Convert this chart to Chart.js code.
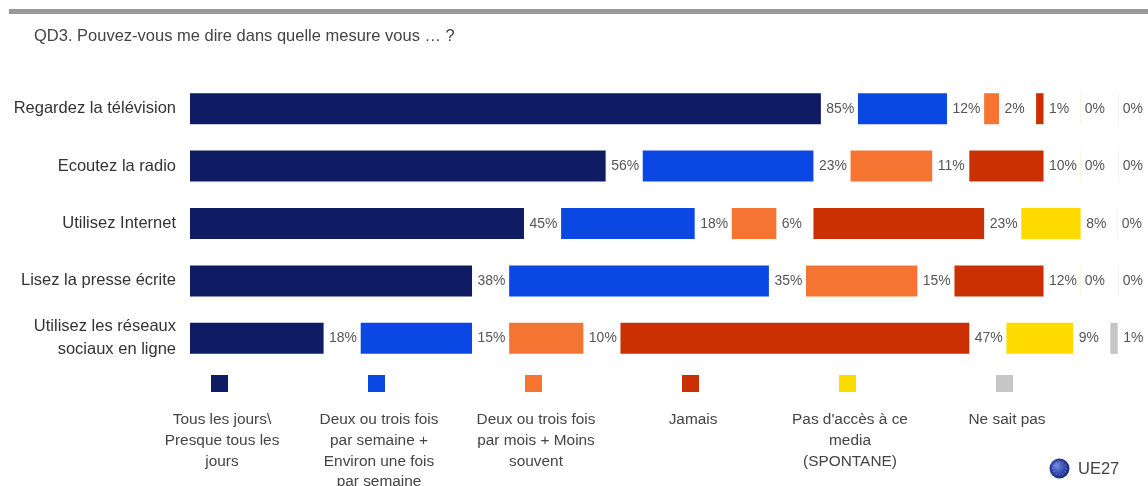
<!DOCTYPE html>
<html lang="fr">
<head>
<meta charset="utf-8">
<title>QD3</title>
<script src="https://cdn.jsdelivr.net/npm/chart.js@4"></script>
<style>
  html, body { margin: 0; padding: 0; background: #fff; overflow: hidden; }
  #wrap { position: relative; width: 1148px; height: 486px; overflow: hidden; }
  #topRule { position: absolute; left: 9px; right: 0; top: 9px; height: 5px; background: #999; }
  #question { position: absolute; left: 34px; top: 26px; font: 17px "Liberation Sans", Arial, sans-serif; color: #444; transform: scaleX(0.97); transform-origin: left top; white-space: nowrap; }
  #myChart { position: absolute; left: 0; top: 0; }
</style>
</head>
<body>
<div id="wrap">
  <canvas id="myChart" width="1148" height="486"></canvas>
  <div id="topRule"></div>
  <div id="question">QD3. Pouvez-vous me dire dans quelle mesure vous … ?</div>
</div>
<script>
const categories = [
  'Regardez la télévision',
  'Ecoutez la radio',
  'Utilisez Internet',
  'Lisez la presse écrite',
  ['Utilisez les réseaux', 'sociaux en ligne']
];
const tousLesJours = [85, 56, 45, 38, 18];
const parSemaine = [12, 23, 18, 35, 15];
const parMois = [2, 11, 6, 15, 10];
const jamais = [1, 10, 23, 12, 47];
const pasAcces = [0, 0, 8, 0, 9];
const neSaitPas = [0, 0, 0, 0, 1];

const seriesNames = [
  ['Tous les jours\\', 'Presque tous les', 'jours'],
  ['Deux ou trois fois', 'par semaine +', 'Environ une fois', 'par semaine'],
  ['Deux ou trois fois', 'par mois + Moins', 'souvent'],
  ['Jamais'],
  ["Pas d'accès à ce", 'media', '(SPONTANE)'],
  ['Ne sait pas']
];
const seriesValues = [tousLesJours, parSemaine, parMois, jamais, pasAcces, neSaitPas];
const colours = ['#0f1b63', '#0b47e3', '#f67431', '#cb3003', '#ffdb00', '#c6c6c6'];
const zeroColours = ['#eee', '#eee', '#eee', '#eee', '#fbf6d6', '#f0f0f0'];
const labelGap = 5; // room left after each segment for its percentage

const FONT = '"Liberation Sans", Arial, sans-serif';

// every real series is followed by a transparent spacer, the labels sit in there
const datasets = [];
seriesValues.forEach((values, i) => {
  datasets.push({
    label: seriesNames[i].join(' '),
    data: values,
    backgroundColor: ctx => ctx.raw === 0 ? zeroColours[i] : colours[i],
    minBarLength: i >= 4 ? 1 : 0,
    isSeries: true
  });
  if (i < seriesValues.length - 1) {
    datasets.push({ label: '', data: values.map(() => labelGap), backgroundColor: 'transparent' });
  }
});

const percentLabels = {
  id: 'percentLabels',
  afterDatasetsDraw(chart) {
    const c = chart.ctx;
    chart.data.datasets.forEach((ds, d) => {
      if (!ds.isSeries) return;
      chart.getDatasetMeta(d).data.forEach((bar, i) => {
        const x = ds.data[i] === 0 ? bar.base + 4.5 : bar.x + 5.5;
        c.save();
        c.translate(x, bar.y);
        c.scale(0.93, 1); // slightly narrow figures
        c.font = '15px ' + FONT;
        c.fillStyle = '#555';
        c.textBaseline = 'middle';
        c.textAlign = 'left';
        c.fillText(ds.data[i] + '%', 0, 0);
        c.restore();
      });
    });
  }
};

// hand-placed legend under the bars, one swatch and a wrapped caption per series
const legendBlock = {
  id: 'legendBlock',
  afterDraw(chart) {
    const c = chart.ctx;
    c.save();
    seriesNames.forEach((lines, i) => {
      const cx = 219.5 + i * 157;
      c.fillStyle = colours[i];
      c.fillRect(cx - 8.5, 375, 17, 17);
      c.fillStyle = '#444';
      c.font = '15.4px ' + FONT;
      c.textAlign = 'center';
      c.textBaseline = 'middle';
      lines.forEach((line, l) => c.fillText(line, cx + 2.5, 420 + l * 20.7));
    });

    // UE27 marker, a small blue globe with a ring of stars
    const gx = 1059.5, gy = 468.5;
    const grad = c.createRadialGradient(gx - 3, gy - 3, 1, gx, gy, 11);
    grad.addColorStop(0, '#7288dc');
    grad.addColorStop(0.6, '#2f44a6');
    grad.addColorStop(1, '#18246f');
    c.fillStyle = grad;
    c.beginPath();
    c.arc(gx, gy, 10, 0, Math.PI * 2);
    c.fill();
    c.fillStyle = 'rgba(225,225,255,0.55)';
    for (let s = 0; s < 12; s++) {
      const a = s * Math.PI / 6;
      c.fillRect(gx + Math.cos(a) * 6.5 - 0.5, gy + Math.sin(a) * 6.5 - 0.5, 1, 1);
    }
    c.fillStyle = '#444';
    c.font = '16.5px ' + FONT;
    c.textAlign = 'left';
    c.fillText('UE27', 1078, 469);
    c.restore();
  }
};

new Chart(document.getElementById('myChart').getContext('2d'), {
  type: 'bar',
  data: { labels: categories, datasets },
  plugins: [percentLabels, legendBlock],
  options: {
    indexAxis: 'y',
    responsive: false,
    animation: false,
    layout: { padding: { top: 80, bottom: 119, right: 8, left: 0 } },
    datasets: { bar: { barPercentage: 0.54, categoryPercentage: 1 } },
    scales: {
      x: { stacked: true, display: false, min: 0, max: 128 },
      y: {
        stacked: true,
        afterFit: scale => { scale.width = 190; },
        grid: { display: false, drawTicks: false },
        border: { display: false },
        ticks: { color: '#333', padding: 14, font: { family: FONT, size: 16.5, lineHeight: 1.38 } }
      }
    },
    plugins: { legend: { display: false }, tooltip: { enabled: false }, title: { display: false } }
  }
});
</script>
</body>
</html>
